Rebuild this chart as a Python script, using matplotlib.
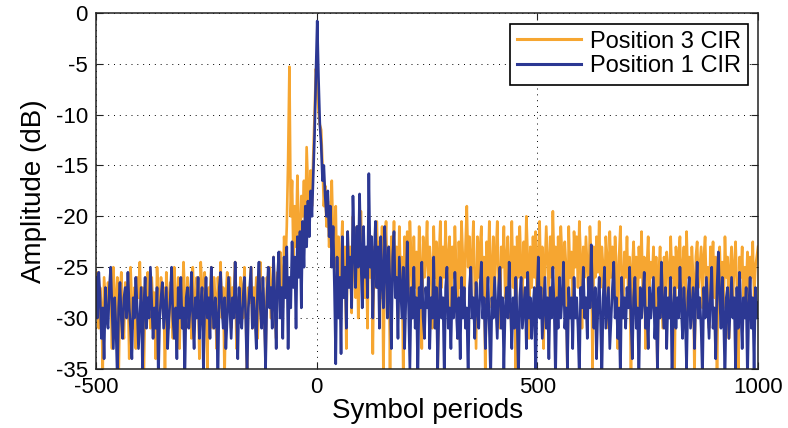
import numpy as np
import matplotlib.pyplot as plt
from matplotlib.lines import Line2D

plt.rcParams['font.family'] = ['Liberation Sans', 'DejaVu Sans']
plt.rcParams['axes.unicode_minus'] = False

# symbol index, one sample every 3 symbol periods
symbol_start = -500
symbol_stop = 1000
symbol_step = 3

# Position 3 CIR (dB)
pos3_cir = [
    -28, -25.5, -31, -27, -29, -35, -26, -28, -30, -26.5,
    -29, -27, -33, -25, -28, -30, -26, -36, -28, -25.5,
    -30, -32, -26.5, -29, -27, -34, -25, -28.5, -31, -27,
    -33, -26, -28, -24.5, -30, -27, -36, -28, -29, -25.5,
    -28.5, -31, -26, -29, -27.5, -34, -25, -28, -30, -26,
    -29, -27, -36, -25.5, -28, -31, -26.5, -28, -32, -25,
    -28, -30, -26, -33, -27.5, -29, -24.5, -28, -31, -26,
    -29, -27, -32, -25, -28.5, -30, -26, -28, -34, -24.5,
    -27, -30, -25.5, -29, -35, -27, -28, -25, -31, -26,
    -28, -33, -26, -29, -24.5, -30, -27, -36, -28, -25.5,
    -29, -26, -31, -27, -28, -24.5, -33, -28, -30, -26,
    -27, -30, -25, -29, -36, -27, -28.5, -25, -31, -27,
    -29, -26, -32, -28, -24.5, -30, -27, -29, -34, -26,
    -28, -25, -30, -27, -24, -29, -32, -25.5, -28, -23.5,
    -26, -29, -22, -25, -21, -14.5, -5.3, -20, -16.5, -24,
    -19, -23, -16, -21, -25, -18, -20, -16.5, -22, -13.2,
    -17, -21, -15.5, -19, -14, -10, -5.5, -7, -9.7, -11,
    -11.5, -15, -19, -17, -21, -18.5, -23, -20, -16.5, -22,
    -25, -19, -27, -22, -30, -24, -20.5, -28, -23, -33,
    -21.5, -26, -23, -29.5, -20, -25, -28, -21, -30, -24,
    -19.5, -26, -22.5, -28, -24, -31, -21, -26, -22, -33.5,
    -23, -27, -20.5, -25, -22.5, -28, -21, -36, -24, -20.5,
    -27, -23, -35, -22, -25, -20.5, -27, -23, -30, -21,
    -26, -24, -36, -22, -26, -21.5, -28, -20.5, -24, -30,
    -22, -27, -23.5, -29, -21, -25, -33, -22, -26, -24,
    -20.5, -28, -23, -25, -31, -21, -26, -22.5, -36, -24,
    -20.5, -27, -23, -26, -20.5, -28, -24, -22, -30, -23,
    -26, -21, -25, -32, -22.5, -27, -20.5, -24, -29, -23,
    -19, -25, -22, -28, -24, -20.5, -27, -33, -22, -26,
    -23, -21, -28, -24, -36, -22.5, -26, -20.5, -25, -29,
    -22, -27, -24, -20.5, -26, -31, -23, -25, -21, -28,
    -24, -22, -30, -25, -20.5, -27, -23, -35, -22, -26,
    -21, -25, -28, -22.5, -26, -20, -24, -32, -23, -27,
    -22, -26, -21.5, -29, -24, -20.5, -27, -23, -33, -25,
    -21, -24.5, -28, -22, -26, -19.5, -25, -23, -30, -22,
    -26, -21, -24, -28, -22.5, -25, -36, -21, -26, -23.5,
    -30, -21.5, -25, -22, -27, -20.5, -24, -31, -23, -26,
    -22, -25, -28, -21, -24, -35, -23, -26, -22, -25.5,
    -20.5, -27, -23, -25, -29, -22, -24, -31, -21.5, -26,
    -23, -27.5, -22, -25, -33, -24, -21, -26, -30, -23.5,
    -26, -22, -28, -24, -36, -25, -22.5, -27, -24, -29,
    -23, -26, -21.5, -28, -24, -33, -25, -22, -27, -24.5,
    -26, -23, -30, -24, -36, -25.5, -23, -27, -31, -24,
    -27, -23.5, -25, -29, -22, -26, -24, -35, -23, -27,
    -24, -22, -28, -25, -23, -30, -21.5, -26, -24, -28,
    -23, -26, -36, -24, -22.5, -27, -25, -23, -29, -24,
    -22, -27, -25, -31, -23, -26, -22.5, -28, -24, -36,
    -25, -23, -27, -24.5, -29, -22, -26, -24, -32, -25,
    -23, -28, -25, -22.5, -27, -36, -24, -26, -23, -29,
    -25, -27, -23.5, -30, -24, -26, -22.5, -28, -25, -24,
    -23,
]

# Position 1 CIR (dB)
pos1_cir = [
    -26, -30, -25.5, -28, -32, -29, -34, -27, -30, -31,
    -27, -25, -29, -33, -28, -31, -36, -29, -26.5, -30,
    -32, -28, -27, -30, -25.5, -29, -31, -34, -28, -30,
    -26, -29, -33, -30, -27, -35, -29, -26, -31, -28,
    -30, -25, -28.5, -32, -29, -31, -27, -36, -30, -28,
    -26.5, -31, -29, -27, -33, -30, -28, -25, -30, -32,
    -29, -34, -27, -30, -26, -31, -29, -36, -28, -27,
    -31, -29, -25.5, -30, -33, -28, -30, -26, -32, -29,
    -27, -35, -29, -26, -30, -28, -32, -25, -29, -31,
    -28, -30, -36, -27, -25.5, -29, -31, -28, -33, -30,
    -26, -29, -32, -28, -30, -24.5, -29, -34, -27, -30,
    -31, -28, -26, -30, -36, -29, -27, -25, -31, -28,
    -30, -33, -27, -24.5, -29, -31, -26, -30, -35, -28,
    -25, -29, -27, -31, -24, -28, -33, -26, -23.5, -30,
    -27, -32, -24, -28, -23, -33, -26, -29, -22.5, -27,
    -24, -31, -22, -26, -21.5, -29, -20.5, -25, -19, -23,
    -18.5, -22, -17.5, -20, -16, -12, -6, -0.8, -6.5, -11,
    -13, -16.5, -15, -18, -20, -17.5, -22, -19, -25, -21,
    -27, -34.5, -24, -30, -26, -33.5, -22, -28, -25, -31,
    -21.5, -27, -24, -29, -18, -23, -27, -21, -25, -17.8,
    -24, -29, -21, -26, -23, -28, -15.8, -25, -22, -30,
    -24, -20.5, -27, -23, -31, -22, -26, -29, -21, -25,
    -30, -23, -27, -33, -24, -21.5, -28, -26, -32, -24,
    -27, -30, -25, -33, -28, -22.5, -29, -35, -27, -30,
    -25, -31, -28, -36, -27, -29, -24.5, -30, -32, -27,
    -29, -26, -33, -28, -30, -24, -31, -27, -35, -29,
    -26, -30, -28, -36, -27, -25, -31, -29, -33, -27,
    -30, -25.5, -29, -32, -28, -34, -26, -30, -27, -31,
    -29, -36, -27, -25, -30, -28, -32, -26.5, -29, -31,
    -27, -24.5, -30, -28, -33, -29, -26, -31, -36, -28,
    -30, -26, -29, -32, -27, -25, -31, -28, -35, -29,
    -27, -30, -24.5, -29, -33, -28, -31, -26, -30, -36,
    -28, -26, -31, -29, -27, -33, -25.5, -30, -28, -32,
    -29, -27, -36, -28, -24, -30, -27, -32, -29, -26,
    -31, -28, -34, -27, -30, -25, -29, -36, -28, -31,
    -26, -30, -28, -24.5, -31, -29, -35, -27, -30, -28,
    -33, -26, -30, -28, -31, -36, -27, -29, -25, -30,
    -28, -32, -26, -29, -22.8, -28, -31, -27, -34, -29,
    -26, -30, -36, -28, -25, -31, -29, -27, -33, -30,
    -27, -24.5, -30, -28, -32, -29, -36, -26, -30, -28,
    -31, -27, -29, -25, -30, -34, -28, -26, -31, -29,
    -36, -27, -30, -28, -25.5, -31, -29, -33, -27, -30,
    -28, -26, -32, -29, -35, -27, -30, -24.5, -29, -31,
    -27, -33, -28, -30, -26, -36, -29, -27, -31, -28,
    -30, -25, -29, -32, -27, -30, -35, -28, -26, -31,
    -29, -27, -33, -28, -24.5, -30, -28, -31, -36, -27,
    -30, -26, -29, -32, -28, -25, -31, -29, -34, -27,
    -23.5, -28, -31, -26, -30, -36, -28, -27, -32, -29,
    -26, -30, -28, -35, -27, -31, -25.5, -29, -33, -28,
    -30, -27, -36, -29, -26, -31, -28, -35, -27, -30,
    -28.5,
]

series_labels = ['Position 3 CIR', 'Position 1 CIR']
orange = '#f6a631'
navy = '#2c3893'

symbols = np.arange(symbol_start, symbol_stop + 1, symbol_step)

fig = plt.figure(figsize=(7.88, 4.28), dpi=100)
ax = fig.add_axes([0.122, 0.138, 0.840, 0.832])

ax.plot(symbols, pos3_cir, color=orange, lw=1.9)
ax.plot(symbols, pos1_cir, color=navy, lw=1.9)

ax.set_xlim(-500, 1000)
ax.set_ylim(-35, 0)
ax.set_xticks([-500, 0, 500, 1000])
ax.set_yticks(np.arange(-35, 1, 5))
ax.grid(True, color='black', linestyle=(0, (1, 5)), linewidth=0.7)
ax.tick_params(direction='in', top=True, right=True, length=5,
               labelsize=16, pad=6, color='#222222')
for sp in ax.spines.values():
    sp.set_linewidth(1.1)
    sp.set_color('#222222')

ax.set_xlabel('Symbol periods', fontsize=20, labelpad=0)
ax.set_ylabel('Amplitude (dB)', fontsize=20, labelpad=6)

handles = [Line2D([], [], color=orange, lw=2.2),
           Line2D([], [], color=navy, lw=2.2)]
leg = ax.legend(handles, series_labels, loc='upper right',
                bbox_to_anchor=(0.9853, 0.970), borderaxespad=0,
                fontsize=17, fancybox=False, framealpha=1,
                edgecolor='black', borderpad=0.3, labelspacing=0.12,
                handlelength=2.7, handletextpad=0.4)
leg.get_frame().set_linewidth(1.2)

fig.savefig('out.png', dpi=100)
